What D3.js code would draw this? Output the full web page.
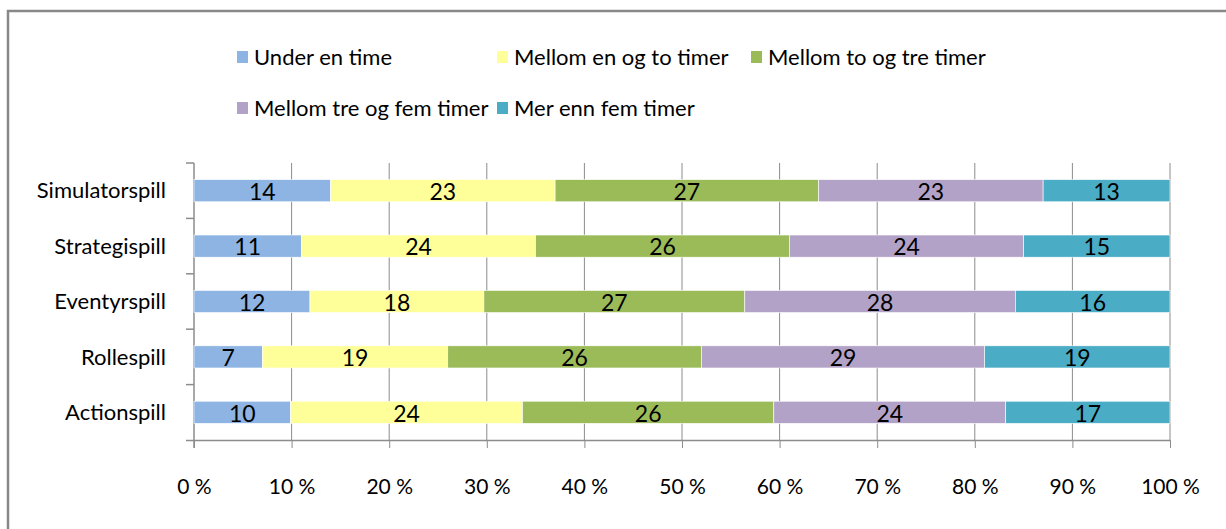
<!DOCTYPE html>
<html>
<head>
<meta charset="utf-8">
<script src="https://cdn.jsdelivr.net/npm/d3@7"></script>
<style>
  body { margin: 0; background: #fff; }
  svg text { font-family: Lato, "Open Sans", sans-serif; fill: #000; }
</style>
</head>
<body>
<svg id="chart" width="1226" height="529"></svg>
<script>
// categories bottom to top, as in the chart
const categories = ['Actionspill', 'Rollespill', 'Eventyrspill', 'Strategispill', 'Simulatorspill'];
const seriesNames = ['Under en time', 'Mellom en og to timer', 'Mellom to og tre timer',
  'Mellom tre og fem timer', 'Mer enn fem timer'];
const underEnTime = [10, 7, 12, 11, 14];
const enTilTo = [24, 19, 18, 24, 23];
const toTilTre = [26, 26, 27, 26, 27];
const treTilFem = [24, 29, 28, 24, 23];
const merEnnFem = [17, 19, 16, 15, 13];
const xTicks = [0, 0.1, 0.2, 0.3, 0.4, 0.5, 0.6, 0.7, 0.8, 0.9, 1];
const colors = ['#8eb4e3', '#ffff99', '#9bbb59', '#b3a2c7', '#4bacc6'];

const seriesValues = [underEnTime, enTilTo, toTilTre, treTilFem, merEnnFem];
const rows = categories.map((c, i) => {
  const r = { category: c };
  seriesNames.forEach((s, j) => { r[s] = seriesValues[j][i]; });
  return r;
});

const svg = d3.select('#chart');
const margin = { left: 194, right: 56, top: 163, bottom: 89 };
const width = 1226, height = 529;

// outer frame (left + top only, like the crop)
svg.append('path')
  .attr('d', `M8,529 V11 H1226`)
  .attr('fill', 'none')
  .attr('stroke', '#888')
  .attr('stroke-width', 2.5);

const x = d3.scaleLinear()
  .domain([0, 1])
  .range([margin.left, width - margin.right]);

const y = d3.scaleBand()
  .domain(categories)
  .range([height - margin.bottom, margin.top])
  .paddingInner(0.6)
  .paddingOuter(0.3);

const stacked = d3.stack()
  .keys(seriesNames)
  .offset(d3.stackOffsetExpand)(rows);

// grid lines
svg.append('g')
  .selectAll('line')
  .data(xTicks.slice(1))
  .join('line')
  .attr('x1', d => x(d)).attr('x2', d => x(d))
  .attr('y1', margin.top).attr('y2', height - margin.bottom)
  .attr('stroke', '#8c8c8c')
  .attr('stroke-width', 1);

// x axis
const xAxis = svg.append('g')
  .attr('transform', `translate(0,${height - margin.bottom})`)
  .call(d3.axisBottom(x).tickValues(xTicks).tickSize(8).tickPadding(31)
    .tickFormat(d => `${Math.round(d * 100)} %`));
xAxis.select('.domain').attr('stroke', '#8c8c8c').attr('stroke-width', 1.5)
  .attr('d', `M${margin.left - 8},0.5H${width - margin.right}`);
xAxis.selectAll('.tick line').attr('stroke', '#8c8c8c');
xAxis.selectAll('.tick text').attr('font-size', 21);

// y axis with ticks between categories
const yAxisG = svg.append('g');
yAxisG.append('line')
  .attr('x1', margin.left).attr('x2', margin.left)
  .attr('y1', margin.top).attr('y2', height - margin.bottom + 8)
  .attr('stroke', '#8c8c8c').attr('stroke-width', 1.5);
const step = y.step();
const boundaries = d3.range(categories.length).map(i => margin.top + i * step);
yAxisG.selectAll('.ytick')
  .data(boundaries)
  .join('line')
  .attr('x1', margin.left - 8).attr('x2', margin.left)
  .attr('y1', d => d).attr('y2', d => d)
  .attr('stroke', '#8c8c8c').attr('stroke-width', 1.5);
yAxisG.selectAll('.ylabel')
  .data(categories)
  .join('text')
  .attr('x', margin.left - 28)
  .attr('y', d => y(d) + y.bandwidth() / 2)
  .attr('dy', '0.35em')
  .attr('text-anchor', 'end')
  .attr('font-size', 22)
  .text(d => d);

// bars
const layer = svg.append('g')
  .selectAll('g')
  .data(stacked)
  .join('g')
  .attr('fill', (d, i) => colors[i]);

layer.selectAll('rect')
  .data(d => d)
  .join('rect')
  .attr('x', d => x(d[0]))
  .attr('width', d => x(d[1]) - x(d[0]))
  .attr('y', d => y(d.data.category))
  .attr('height', y.bandwidth())
  .attr('stroke', '#fff')
  .attr('stroke-width', 0.6);

layer.selectAll('text')
  .data(d => d.map(p => ({ p, key: d.key })))
  .join('text')
  .attr('x', d => (x(d.p[0]) + x(d.p[1])) / 2)
  .attr('y', d => y(d.p.data.category) + y.bandwidth() / 2)
  .attr('dy', '0.4em')
  .attr('text-anchor', 'middle')
  .attr('font-size', 23)
  .text(d => d.p.data[d.key]);

// legend
const legendPos = [[237, 57], [497, 57], [751, 57], [237, 108], [497, 108]];
const legend = svg.append('g')
  .selectAll('g')
  .data(seriesNames)
  .join('g')
  .attr('transform', (d, i) => `translate(${legendPos[i][0]},${legendPos[i][1]})`);
legend.append('rect')
  .attr('x', 0).attr('y', -6)
  .attr('width', 11).attr('height', 12)
  .attr('fill', (d, i) => colors[i]);
legend.append('text')
  .attr('x', 17)
  .attr('dy', '0.35em')
  .attr('font-size', 22)
  .text(d => d);
</script>
</body>
</html>
